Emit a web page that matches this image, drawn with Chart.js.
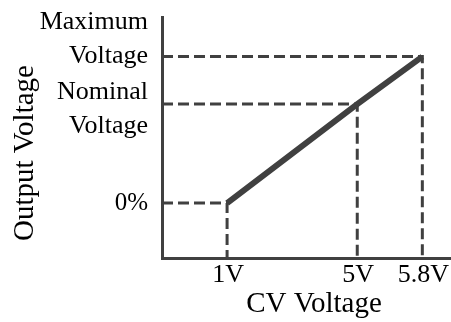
<!DOCTYPE html>
<html>
<head>
<meta charset="utf-8">
<script src="https://cdn.jsdelivr.net/npm/chart.js@4"></script>
<style>
  html, body { margin: 0; padding: 0; background: #fff; }
  canvas { display: block; }
</style>
</head>
<body>
<canvas id="cvChart" width="451" height="322"></canvas>
<script>
// CV input vs output voltage (schematic, x axis not to scale)
const cvLabels = ["1V", "5V", "5.8V"];
const cvPositions = [1, 5, 7];
const outputLevels = [0, 100, 148];
const levelLabels = [["0%"], ["Nominal", "Voltage"], ["Maximum", "Voltage"]];

const ink = "#404040";
const xMin = -1, xMax = 7.85;
const yMin = -55.5, yMax = 188;

// vertical shift of each y label block relative to its level
const levelShift = [0, 5, -17];

const curve = cvPositions.map((x, i) => ({ x: x, y: outputLevels[i] }));

// dashed guides: from the y axis to the point, then down to the x axis
const guides = cvPositions.map((x, i) => ({
    type: "line",
    data: [
        { x: xMin, y: outputLevels[i] },
        { x: x, y: outputLevels[i] },
        { x: x, y: yMin },
    ],
    borderColor: ink,
    borderWidth: 3,
    borderDash: [11, 5],
    pointRadius: 0,
    fill: false,
}));

const axisText = {
    id: "axisText",
    afterDraw(chart) {
        const { ctx, chartArea } = chart;
        const x = chart.scales.x;
        const y = chart.scales.y;
        ctx.save();
        ctx.fillStyle = "#000";
        ctx.textAlign = "right";
        ctx.textBaseline = "middle";
        levelLabels.forEach((lines, i) => {
            ctx.font = (lines.length > 1 ? 26 : 25) + 'px "Liberation Serif"';
            const cy = y.getPixelForValue(outputLevels[i]) + levelShift[i];
            const top = cy - ((lines.length - 1) * 34) / 2;
            lines.forEach((t, j) => ctx.fillText(t, 148, top + j * 34));
        });
        ctx.font = '26px "Liberation Serif"';
        ctx.textAlign = "center";
        cvLabels.forEach((t, i) => {
            ctx.fillText(t, x.getPixelForValue(cvPositions[i]) + 1, chartArea.bottom + 17);
        });
        ctx.font = '29px "Liberation Serif"';
        ctx.fillText("CV Voltage", 314, 304);
        ctx.translate(25, 153);
        ctx.rotate(-Math.PI / 2);
        ctx.fillText("Output Voltage", 0, 0);
        ctx.restore();
    },
};

new Chart(document.getElementById("cvChart"), {
    type: "line",
    data: {
        datasets: [
            ...guides,
            {
                data: curve,
                borderColor: ink,
                borderWidth: 6,
                pointRadius: 0,
                fill: false,
            },
        ],
    },
    options: {
        responsive: false,
        animation: false,
        layout: { padding: { left: 162, top: 17, right: 1, bottom: 64 } },
        plugins: { legend: { display: false }, tooltip: { enabled: false } },
        scales: {
            x: {
                type: "linear",
                min: xMin,
                max: xMax,
                ticks: { display: false },
                grid: { display: false, drawTicks: false },
                border: { display: true, color: ink, width: 3 },
            },
            y: {
                type: "linear",
                min: yMin,
                max: yMax,
                ticks: { display: false },
                grid: { display: false, drawTicks: false },
                border: { display: true, color: ink, width: 3 },
            },
        },
    },
    plugins: [axisText],
});
</script>
</body>
</html>
